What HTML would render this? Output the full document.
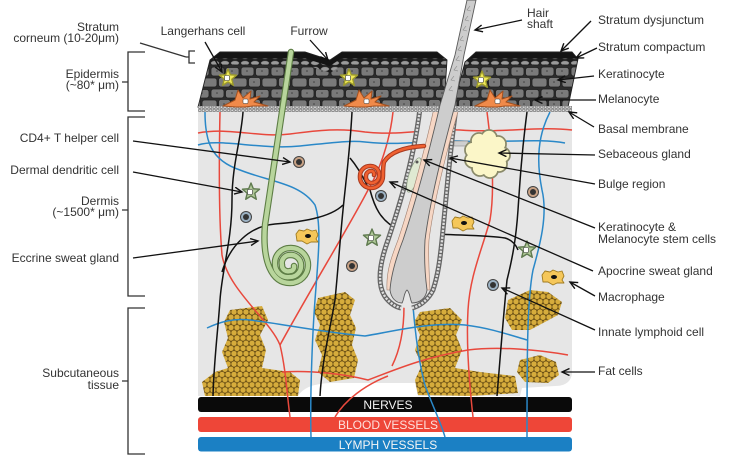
<!DOCTYPE html>
<html><head><meta charset="utf-8">
<style>
html,body{margin:0;padding:0;background:#fff;}
svg{display:block;}
text{font-family:"Liberation Sans",Arial,sans-serif;font-size:12px;fill:#333;}
.bar{font-size:12px;fill:#f4f4f4;}
</style></head><body>
<svg width="729" height="456" viewBox="0 0 729 456" xmlns="http://www.w3.org/2000/svg">
<defs>
  <pattern id="cells" width="30" height="22" patternUnits="userSpaceOnUse">
    <rect width="30" height="22" fill="#2c2c2c"/>
    <g fill="#7a7a7a" stroke="#1e1e1e" stroke-width="0.8">
      <rect x="1" y="1" width="13" height="9" rx="2.5"/>
      <rect x="15.5" y="1.5" width="13.5" height="8.5" rx="2.5"/>
      <rect x="-7" y="12" width="14" height="9" rx="2.5"/>
      <rect x="8.5" y="11.5" width="12" height="9.5" rx="2.5"/>
      <rect x="22" y="12" width="14" height="9" rx="2.5"/>
    </g>
    <g fill="#3e3e3e"><circle cx="7" cy="5" r="0.8"/><circle cx="22" cy="5" r="0.8"/><circle cx="14" cy="16" r="0.8"/></g>
  </pattern>
  <pattern id="ovals" width="10" height="6" patternUnits="userSpaceOnUse">
    <rect width="10" height="6" fill="#1c1c1c"/>
    <ellipse cx="5" cy="3" rx="4.2" ry="2.2" fill="#9a9a9a" stroke="#333" stroke-width="0.5"/>
  </pattern>
  <pattern id="basal" width="3.6" height="3.2" patternUnits="userSpaceOnUse">
    <rect width="3.6" height="3.2" fill="#bdbdbd"/>
    <circle cx="1.8" cy="1.6" r="1.2" fill="#e2e2e2" stroke="#6a6a6a" stroke-width="0.5"/>
  </pattern>
  <pattern id="fat" width="6" height="10.4" patternUnits="userSpaceOnUse">
    <rect width="6" height="10.4" fill="#6e5414"/>
    <g fill="#d6ac3c" stroke="#5e4510" stroke-width="0.55">
      <circle cx="0" cy="0" r="3"/><circle cx="6" cy="0" r="3"/><circle cx="3" cy="5.2" r="3"/>
      <circle cx="0" cy="10.4" r="3"/><circle cx="6" cy="10.4" r="3"/>
    </g>
  </pattern>
  <marker id="ar" markerWidth="10" markerHeight="10" refX="8" refY="4" orient="auto" markerUnits="userSpaceOnUse">
    <path d="M0.5,0.5 L8,4 L0.5,7.5" fill="none" stroke="#111" stroke-width="1.4"/>
  </marker>
  <clipPath id="blocks">
    <path d="M210,60 L220,52 L305,52 L330,60 L342,52 L437,52 L447,60 L444,107 L198,107 Z"/>
    <path d="M465,62 L476,52 L572,52 L578,59 L568,107 L453,107 Z"/>
  </clipPath>
  <g id="lang">
    <polygon points="0,-9 2.35,-3.24 8.56,-2.78 3.8,1.24 5.29,7.28 0,4 -5.29,7.28 -3.8,1.24 -8.56,-2.78 -2.35,-3.24" fill="#f1ea5a" stroke="#9c9a2c" stroke-width="1.4" stroke-linejoin="round"/>
    <rect x="-3.5" y="-2.5" width="5" height="5" rx="1" fill="#fff" stroke="#333" stroke-width="0.6"/>
  </g>
  <g id="dend">
    <polygon points="0,-9 2.35,-3.24 8.56,-2.78 3.8,1.24 5.29,7.28 0,4 -5.29,7.28 -3.8,1.24 -8.56,-2.78 -2.35,-3.24" fill="#b0c998" stroke="#5f7a4f" stroke-width="1.4" stroke-linejoin="round"/>
    <rect x="-3.5" y="-2.5" width="5" height="5" rx="1" fill="#fff" stroke="#333" stroke-width="0.6"/>
  </g>
  <g id="mel">
    <path d="M-22,6 L-10,0 L-7,-10 L-2,-2 L6,-9 L5,-1 L15,-4 L9,2 L23,6 L8,6 L0,7 L-9,7 Z" fill="#f08a4a" stroke="#a4501e" stroke-width="1" stroke-linejoin="round"/>
    <rect x="-2" y="-1" width="5" height="4.5" rx="1" fill="#fff" stroke="#333" stroke-width="0.5"/>
  </g>
  <g id="mac">
    <path d="M-11,-2 L-8,-6 L-3,-5 L0,-7 L5,-5 L9,-6 L11,-1 L9,3 L11,6 L4,6 L0,8 L-5,5 L-10,5 Z" fill="#f5c75a" stroke="#a07b20" stroke-width="0.9" stroke-linejoin="round"/>
    <ellipse cx="1" cy="0" rx="3" ry="2" fill="#111"/>
  </g>
  <g id="tcell"><circle r="5.5" fill="#c8a285" stroke="#444" stroke-width="1"/><circle r="3" fill="#333"/></g>
  <g id="bcell"><circle r="5.5" fill="#9cb2c4" stroke="#444" stroke-width="1"/><circle r="3" fill="#333"/></g>
</defs>

<rect width="729" height="456" fill="#fff"/>

<!-- dermis / subcutis background -->
<path d="M198,106 H572 V374 Q570,386 555,386 L522,388 L520,396 H418 L415,383 H330 Q305,384 298,396 H198 Z" fill="#e6e6e6"/>

<!-- fat clusters -->
<g fill="url(#fat)">
  <path d="M230,310 L262,306 L268,320 L260,335 L266,350 L262,368 L290,372 L300,380 L298,396 L205,396 L202,382 L215,372 L228,368 L222,352 L228,338 L224,322 Z"/>
  <path d="M318,298 L345,292 L355,300 L350,315 L356,328 L352,345 L358,360 L354,378 L330,382 L318,372 L322,355 L315,340 L320,325 L314,312 Z"/>
  <path d="M420,312 L450,308 L462,320 L456,335 L462,350 L455,368 L480,372 L515,376 L518,393 L470,396 L418,395 L415,380 L422,365 L415,350 L420,335 L414,322 Z"/>
  <path d="M508,300 L530,290 L548,292 L562,302 L558,315 L545,322 L530,330 L512,330 L505,318 Z"/>
  <path d="M520,360 L540,355 L556,362 L559,375 L548,383 L525,382 L517,372 Z"/>
</g>

<!-- bars -->
<rect x="198" y="397" width="374" height="15" rx="3" fill="#0a0a0a"/>
<rect x="198" y="417" width="374" height="15" rx="3" fill="#ee4638"/>
<rect x="198" y="437" width="374" height="14.5" rx="3" fill="#1b80c4"/>
<text class="bar" x="388" y="409" text-anchor="middle">NERVES</text>
<text class="bar" x="388" y="429" text-anchor="middle" style="fill:#fde0dc">BLOOD VESSELS</text>
<text class="bar" x="388" y="449" text-anchor="middle">LYMPH VESSELS</text>

<!-- vessels -->
<g fill="none" stroke="#e8483c" stroke-width="1.5">
  <path d="M220,112 C219,160 219,220 222,255 C228,290 270,320 280,345 C286,370 287,395 290,417"/>
  <path d="M198,133 C230,127 260,138 290,134 C320,130 340,128 365,132 C400,136 430,128 460,130 C500,133 540,126 572,130"/>
  <path d="M393,112 C390,140 380,170 368,190 C350,225 310,290 280,345"/>
  <path d="M487,112 C492,150 495,190 490,220 C482,250 470,275 468,310 C466,345 470,390 473,417"/>
  <path d="M282,372 C310,370 345,374 368,380 C390,372 420,358 468,350 C500,346 540,350 568,355"/>
  <path d="M388,376 C365,385 345,400 335,417"/>
  <path d="M404,306 C404,330 400,350 392,366"/>
</g>
<g fill="none" stroke="#2a88c8" stroke-width="1.5">
  <path d="M205,112 C205,140 210,160 240,170 C270,182 300,183 315,205 C322,225 318,260 315,300 C312,340 310,400 311,437"/>
  <path d="M198,145 C220,138 260,150 300,146 C330,143 350,140 365,142 C400,146 430,140 460,141 C500,143 540,138 565,143"/>
  <path d="M550,112 C538,135 536,160 542,190 C548,215 540,245 533,270 C527,300 527,360 527,437"/>
  <path d="M207,328 C220,322 233,318 250,320 C283,324 320,332 365,336 C400,330 432,322 465,325 C490,328 510,335 527,340"/>
  <path d="M413,306 C415,330 418,360 425,385 C432,405 440,420 445,437"/>
</g>
<g fill="none" stroke="#111" stroke-width="1.5">
  <path d="M243,112 C241,140 232,165 232,200 C232,240 222,270 220,300 C218,330 214,360 213,396"/>
  <path d="M352,112 C350,150 346,180 343,210 C340,240 338,270 335,300 C330,330 322,360 320,396"/>
  <path d="M527,112 C522,150 520,180 518,210 C516,240 512,260 507,280 C503,320 500,360 497,396"/>
  <path d="M343,205 C330,218 300,222 275,224 C250,226 230,245 222,272"/>
  <path d="M350,158 C356,165 362,175 367,185"/>
  <path d="M370,190 C374,205 380,222 400,230 C430,236 480,234 505,238 C512,240 516,245 518,250"/>
</g>

<!-- sebaceous gland -->
<rect x="454" y="141" width="14" height="5" fill="#cfcfcf" stroke="#888" stroke-width="0.6"/>
<g stroke="#8a8a6a" stroke-width="1.8" fill="#fbf6c8">
  <circle cx="502" cy="155" r="8"/><circle cx="499" cy="164" r="8"/><circle cx="490" cy="170" r="8"/>
  <circle cx="480" cy="168" r="8"/><circle cx="473" cy="160" r="8"/><circle cx="473" cy="150" r="8"/>
  <circle cx="479" cy="141" r="8"/><circle cx="489" cy="138" r="8"/><circle cx="498" cy="144" r="8"/>
</g>
<g fill="#fbf6c8">
  <circle cx="502" cy="155" r="7.1"/><circle cx="499" cy="164" r="7.1"/><circle cx="490" cy="170" r="7.1"/>
  <circle cx="480" cy="168" r="7.1"/><circle cx="473" cy="160" r="7.1"/><circle cx="473" cy="150" r="7.1"/>
  <circle cx="479" cy="141" r="7.1"/><circle cx="489" cy="138" r="7.1"/><circle cx="498" cy="144" r="7.1"/>
  <circle cx="487" cy="155" r="15"/>
</g>

<!-- hair follicle -->
<path d="M420,108 C414,160 398,210 388,240 C380,262 376,285 386,298 C391,304 396,307 406,308 C420,306 428,300 433,290 C438,275 440,260 442,240 C446,200 450,150 456,108 Z" fill="#e6e6e6"/>
<g fill="none">
  <path d="M420,108 C414,160 398,210 388,240 C380,262 376,285 386,298 C391,304 396,307 401,308" stroke="#666" stroke-width="5"/>
  <path d="M420,108 C414,160 398,210 388,240 C380,262 376,285 386,298 C391,304 396,307 401,308" stroke="#dedede" stroke-width="2.4" stroke-dasharray="2.2 1.3"/>
  <path d="M412,308 C420,306 428,300 433,290 C438,275 440,260 442,240 C446,200 450,150 456,108" stroke="#666" stroke-width="5"/>
  <path d="M412,308 C420,306 428,300 433,290 C438,275 440,260 442,240 C446,200 450,150 456,108" stroke="#dedede" stroke-width="2.4" stroke-dasharray="2.2 1.3"/>
</g>
<ellipse cx="414" cy="175" rx="5" ry="18" transform="rotate(18 414 175)" fill="#dfe9d2" stroke="#8a9a80" stroke-width="0.7"/>
<circle cx="417" cy="162" r="1.5" fill="#555"/>
<path d="M434,108 C427,140 413,195 398,240 C391,258 386,272 387,290 L430,290 C429,270 428,255 429,240 C434,200 447,150 459,108 Z" fill="#f6d6c4" stroke="#a08070" stroke-width="0.6"/>

<!-- apocrine gland -->
<path d="M424,146 C405,147 390,152 384,162 C383,166 383,171 383,176 A12 12 0 0 1 371,188 A11 11 0 0 1 360,176 A10 10 0 0 1 371,166 A8.5 8.5 0 0 1 379,176 A7.5 7.5 0 0 1 371,183 A6 6 0 0 1 366,176 A5 5 0 0 1 371,171 A3 3 0 0 1 374,175" fill="none" stroke="#a83a20" stroke-width="4.5" stroke-linecap="round"/>
<path d="M424,146 C405,147 390,152 384,162 C383,166 383,171 383,176 A12 12 0 0 1 371,188 A11 11 0 0 1 360,176 A10 10 0 0 1 371,166 A8.5 8.5 0 0 1 379,176 A7.5 7.5 0 0 1 371,183 A6 6 0 0 1 366,176 A5 5 0 0 1 371,171 A3 3 0 0 1 374,175" fill="none" stroke="#f06030" stroke-width="2.5" stroke-linecap="round"/>

<!-- dermal cells -->
<use href="#tcell" x="299" y="162"/>
<use href="#tcell" x="533" y="192"/>
<use href="#tcell" x="352" y="266"/>
<use href="#bcell" x="246" y="217"/>
<use href="#bcell" x="381" y="196"/>
<use href="#bcell" x="493" y="285"/>
<use href="#dend" x="251" y="192"/>
<use href="#dend" x="372" y="238"/>
<use href="#dend" x="527" y="250"/>
<use href="#mac" x="307" y="236"/>
<use href="#mac" x="463" y="223"/>
<use href="#mac" x="553" y="277"/>

<!-- epidermis -->
<g clip-path="url(#blocks)">
  <rect x="195" y="50" width="390" height="60" fill="url(#cells)"/>
  <path d="M190,55 L305,55 L330,63 L342,55 L450,55" fill="none" stroke="#141414" stroke-width="7"/>
  <path d="M190,61.5 L305,61.5 L330,69.5 L342,61.5 L450,61.5" fill="none" stroke="url(#ovals)" stroke-width="6"/>
  <path d="M450,55 L585,55" fill="none" stroke="#141414" stroke-width="7"/>
  <path d="M450,61.5 L585,61.5" fill="none" stroke="url(#ovals)" stroke-width="6"/>
</g>
<g fill="none" stroke="#222" stroke-width="0.9">
  <path d="M210,60 L220,52 L305,52 L330,60 L342,52 L437,52 L447,60 L444,107 L198,107 Z"/>
  <path d="M465,62 L476,52 L572,52 L578,59 L568,107 L453,107 Z"/>
</g>
<rect x="198" y="106" width="246" height="6" fill="url(#basal)"/>
<rect x="453" y="106" width="119" height="6" fill="url(#basal)"/>
<use href="#lang" x="228" y="78"/>
<use href="#lang" x="349" y="78"/>
<use href="#lang" x="482" y="80"/>
<use href="#mel" x="245" y="100"/>
<use href="#mel" x="366" y="100"/>
<use href="#mel" x="497" y="100"/>

<!-- hair shaft -->
<path d="M440,105 C432,140 418,195 403,240 C396,258 391,275 390,290 C391,298 396,303 402,303 C404,300 404,292 407,290 C410,292 410,300 412,303 C420,303 426,298 427,290 C425,275 424,258 425,240 C430,200 443,150 455,105 L464,55 L476,0 L467,0 L455,55 Z" fill="#cdcdcd" stroke="#5a5a5a" stroke-width="0.9"/>
<path d="M470,6 l-3,4 l4,1 M468,16 l-3,4 l4,1 M466,26 l-3,4 l4,1 M463,36 l-3,4 l4,1 M461,46 l-3,4 l4,1 M459,56 l-3,4 l4,1 M457,66 l-3,4 l4,1 M454,76 l-3,4 l4,1 M452,86 l-3,4 l4,1" fill="none" stroke="#888" stroke-width="0.6"/>

<!-- eccrine gland -->
<path d="M291,52 L265,225 C262,262 272,283 290,283 A18 18 0 0 0 308,265 A17 17 0 0 0 290,248 A15 15 0 0 0 275,264 A13 13 0 0 0 290,277 A11 11 0 0 0 301,265 A10 10 0 0 0 290,255 A8 8 0 0 0 282,265 A6 6 0 0 0 290,271 A4 4 0 0 0 294,266" fill="none" stroke="#5d7d45" stroke-width="6.5" stroke-linecap="round"/>
<path d="M291,52 L265,225 C262,262 272,283 290,283 A18 18 0 0 0 308,265 A17 17 0 0 0 290,248 A15 15 0 0 0 275,264 A13 13 0 0 0 290,277 A11 11 0 0 0 301,265 A10 10 0 0 0 290,255 A8 8 0 0 0 282,265 A6 6 0 0 0 290,271 A4 4 0 0 0 294,266" fill="none" stroke="#b8d59c" stroke-width="4.3" stroke-linecap="round"/>

<!-- brackets -->
<g fill="none" stroke="#333" stroke-width="1.3">
  <path d="M195,51 L189,51 L189,63 L195,63 M186,57 L189,57"/>
  <path d="M145,52 L128,52 L128,111 L145,111 M122,82 L128,82"/>
  <path d="M145,117 L128,117 L128,296 L145,296 M122,210 L128,210"/>
  <path d="M145,308 L128,308 L128,454 L145,454 M122,381 L128,381"/>
  <path d="M140,43 L186,57"/>
</g>

<!-- arrows -->
<g fill="none" stroke="#111" stroke-width="1.3" marker-end="url(#ar)">
  <path d="M205,42 L222,72"/>
  <path d="M310,40 L328,60"/>
  <path d="M522,20 L475,30"/>
  <path d="M591,21 L561,51"/>
  <path d="M597,48 L576,58"/>
  <path d="M594,76 L558,80"/>
  <path d="M596,100 L535,100"/>
  <path d="M594,127 L569,112"/>
  <path d="M595,155 L499,153"/>
  <path d="M595,184 L450,158"/>
  <path d="M595,228 L424,160"/>
  <path d="M593,271 L390,182"/>
  <path d="M595,296 L570,282"/>
  <path d="M595,330 L502,288"/>
  <path d="M595,372 L562,372"/>
  <path d="M133,141 L290,162"/>
  <path d="M133,172 L242,192"/>
  <path d="M133,258 L258,241"/>
</g>

<!-- left labels -->
<g text-anchor="end">
  <text x="119" y="31">Stratum</text>
  <text x="119" y="42">corneum (10-20μm)</text>
  <text x="119" y="78">Epidermis</text>
  <text x="119" y="89">(~80* μm)</text>
  <text x="119" y="142">CD4+ T helper cell</text>
  <text x="119" y="174">Dermal dendritic cell</text>
  <text x="119" y="205">Dermis</text>
  <text x="119" y="216">(~1500* μm)</text>
  <text x="119" y="262">Eccrine sweat gland</text>
  <text x="119" y="377">Subcutaneous</text>
  <text x="119" y="389">tissue</text>
</g>
<text x="203" y="35" text-anchor="middle">Langerhans cell</text>
<text x="309" y="35" text-anchor="middle">Furrow</text>
<text x="527" y="17">Hair</text>
<text x="527" y="28">shaft</text>

<!-- right labels -->
<g>
  <text x="598" y="24">Stratum dysjunctum</text>
  <text x="598" y="51">Stratum compactum</text>
  <text x="598" y="78">Keratinocyte</text>
  <text x="598" y="103">Melanocyte</text>
  <text x="598" y="133">Basal membrane</text>
  <text x="598" y="158">Sebaceous gland</text>
  <text x="598" y="188">Bulge region</text>
  <text x="598" y="231">Keratinocyte &amp;</text>
  <text x="598" y="243">Melanocyte stem cells</text>
  <text x="598" y="275">Apocrine sweat gland</text>
  <text x="598" y="301">Macrophage</text>
  <text x="598" y="336">Innate lymphoid cell</text>
  <text x="598" y="375">Fat cells</text>
</g>
</svg>
</body></html>
